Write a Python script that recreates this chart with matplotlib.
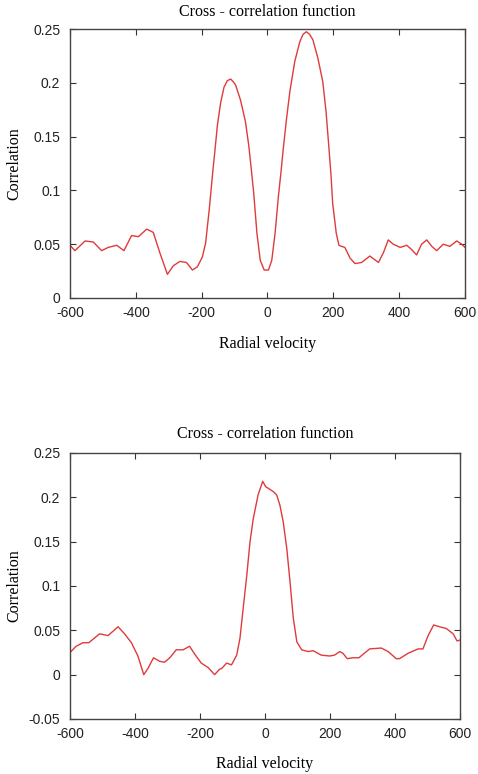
import matplotlib
matplotlib.use("Agg")
import matplotlib.pyplot as plt

# Top panel: cross-correlation with two peaks
v_top = [-600, -585, -554, -529, -504, -484, -458, -436, -413, -392, -367, -347,
         -327, -304, -286, -266, -246, -228, -213, -198, -188, -177, -166, -160,
         -152, -142, -132, -122, -112, -104, -97, -82, -67, -57, -49, -42, -32,
         -22, -10, 3, 13, 23, 33, 41, 48, 58, 68, 83, 98, 108, 118, 128, 138,
         153, 168, 178, 186, 193, 198, 209, 217, 225, 235, 251, 266, 286, 311,
         337, 352, 367, 382, 403, 423, 438, 453, 468, 484, 499, 514, 534, 554,
         575, 590, 600]
c_top = [0.049, 0.044, 0.053, 0.052, 0.044, 0.047, 0.049, 0.044, 0.058, 0.057,
         0.064, 0.061, 0.042, 0.022, 0.030, 0.034, 0.033, 0.026, 0.029, 0.038,
         0.051, 0.082, 0.118, 0.136, 0.161, 0.182, 0.196, 0.202, 0.2035, 0.201,
         0.198, 0.184, 0.164, 0.142, 0.119, 0.098, 0.060, 0.035, 0.026, 0.026,
         0.035, 0.060, 0.094, 0.117, 0.139, 0.167, 0.192, 0.220, 0.238, 0.245,
         0.2475, 0.245, 0.240, 0.223, 0.201, 0.173, 0.142, 0.114, 0.088, 0.060,
         0.049, 0.048, 0.047, 0.037, 0.032, 0.033, 0.039, 0.033, 0.042, 0.054,
         0.050, 0.047, 0.049, 0.045, 0.040, 0.050, 0.054, 0.048, 0.044, 0.050,
         0.048, 0.053, 0.050, 0.047]

# Bottom panel: cross-correlation with one peak
v_bot = [-600, -581, -560, -542, -509, -483, -452, -432, -411, -391, -373, -360,
         -343, -324, -309, -293, -273, -252, -232, -216, -196, -175, -155, -140,
         -133, -118, -103, -87, -77, -67, -56, -46, -36, -21, -7, 2, 15, 27, 36,
         46, 56, 67, 77, 87, 98, 113, 133, 148, 173, 199, 214, 230, 240, 253,
         271, 289, 302, 322, 358, 379, 404, 414, 440, 471, 486, 502, 519, 537,
         558, 579, 591, 600]
c_bot = [0.025, 0.032, 0.036, 0.036, 0.046, 0.044, 0.054, 0.046, 0.036, 0.021,
         0.000, 0.007, 0.019, 0.015, 0.014, 0.019, 0.028, 0.028, 0.032, 0.023,
         0.013, 0.008, 0.000, 0.006, 0.007, 0.013, 0.011, 0.022, 0.041, 0.075,
         0.112, 0.150, 0.176, 0.203, 0.218, 0.212, 0.209, 0.206, 0.2026, 0.191,
         0.1725, 0.1425, 0.105, 0.064, 0.037, 0.028, 0.026, 0.027, 0.022, 0.021,
         0.022, 0.026, 0.024, 0.018, 0.019, 0.019, 0.023, 0.029, 0.030, 0.026,
         0.018, 0.018, 0.024, 0.029, 0.029, 0.044, 0.056, 0.054, 0.052, 0.046,
         0.038, 0.039]

x_ticks = [-600, -400, -200, 0, 200, 400, 600]
y_ticks_top = [0, 0.05, 0.1, 0.15, 0.2, 0.25]
y_labels_top = ["0", "0.05", "0.1", "0.15", "0.2", "0.25"]
y_ticks_bot = [-0.05, 0, 0.05, 0.1, 0.15, 0.2, 0.25]
y_labels_bot = ["-0.05", "0", "0.05", "0.1", "0.15", "0.2", "0.25"]

serif = "Liberation Serif"
sans = "Liberation Sans"
line_color = "#e03a3a"

fig = plt.figure(figsize=(4.78, 7.74), dpi=100)
ax1 = fig.add_axes([0.1464, 0.6150, 0.8264, 0.3475])
ax2 = fig.add_axes([0.1464, 0.0711, 0.8159, 0.3437])


def style(ax, yticks, ylabels, ylim, title_pad, xlab_y, ylab_x):
    ax.set_xlim(-600, 600)
    ax.set_ylim(*ylim)
    ax.set_xticks(x_ticks)
    ax.set_xticklabels([str(t) for t in x_ticks], family=sans, fontsize=10, color="#222222")
    ax.set_yticks(yticks)
    ax.set_yticklabels(ylabels, family=sans, fontsize=10, color="#222222")
    ax.tick_params(direction="in", length=4, width=0.8, top=True, right=True,
                   color="#333333")
    ax.tick_params(axis="x", pad=6)
    ax.tick_params(axis="y", pad=7)
    for s in ax.spines.values():
        s.set_color("#444444")
        s.set_linewidth(1.0)
    ax.set_title("Cross - correlation function", family=serif, fontsize=11.5, pad=title_pad)
    ax.set_xlabel("Radial velocity", family=serif, fontsize=11.5)
    ax.set_ylabel("Correlation", family=serif, fontsize=11.5)
    ax.xaxis.set_label_coords(0.5, xlab_y)
    ax.yaxis.set_label_coords(ylab_x, 0.5)


ax1.plot(v_top, c_top, color=line_color, linewidth=1.0)
style(ax1, y_ticks_top, y_labels_top, (0, 0.25), 9.5, -0.141, -0.1215)

ax2.plot(v_bot, c_bot, color=line_color, linewidth=1.0)
style(ax2, y_ticks_bot, y_labels_bot, (-0.05, 0.25), 11, -0.139, -0.123)

fig.savefig("out.png", dpi=100)
